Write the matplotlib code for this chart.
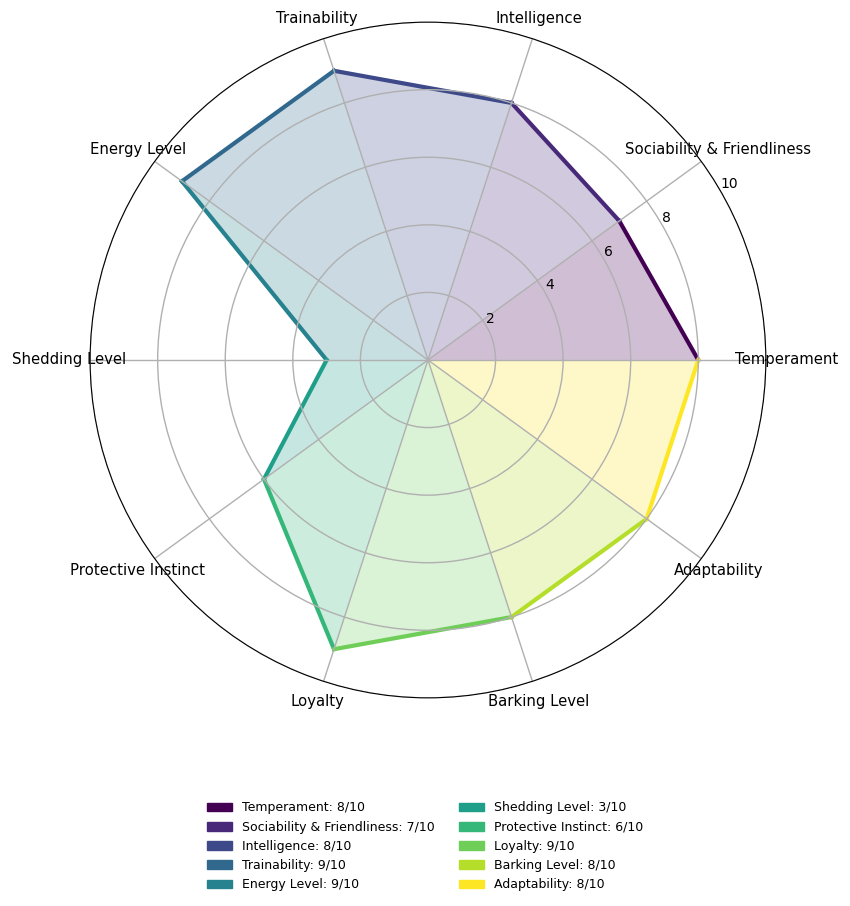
import numpy as np
import matplotlib.pyplot as plt
from matplotlib.patches import Patch

categories = ["Temperament", "Sociability & Friendliness", "Intelligence",
              "Trainability", "Energy Level", "Shedding Level",
              "Protective Instinct", "Loyalty", "Barking Level", "Adaptability"]
scores = [8, 7, 8, 9, 9, 3, 6, 9, 8, 8]

n = len(categories)
angles = np.linspace(0, 2 * np.pi, n, endpoint=False)
colors = plt.cm.viridis(np.linspace(0, 1, n))

fig = plt.figure(figsize=(8.5, 9.06), dpi=100)
ax = fig.add_axes([0.106, 0.2296, 0.795, 0.7461], polar=True)

# one wedge + one outline segment per category
for i in range(n):
    j = (i + 1) % n
    a0, a1 = angles[i], angles[j] if j != 0 else 2 * np.pi
    ax.fill([0, a0, a1, 0], [0, scores[i], scores[j], 0],
            color=colors[i], alpha=0.25, linewidth=0)
    ax.plot([a0, a1], [scores[i], scores[j]], color=colors[i], linewidth=3)

ax.set_xticks(angles)
ax.set_xticklabels(categories, fontsize=10.7)
ax.tick_params(axis="x", pad=4.5)
ax.set_ylim(0, 10)
ax.set_yticks([2, 4, 6, 8, 10])
ax.set_yticklabels(["2", "4", "6", "8", "10"], fontsize=10)
ax.set_rlabel_position(30)
ax.grid(True, color="#b0b0b0", linewidth=1)
ax.set_axisbelow(False)
ax.spines["polar"].set_zorder(10)
ax.spines["polar"].set_color("black")

handles = [Patch(color=colors[i], label=f"{categories[i]}: {scores[i]}/10")
           for i in range(n)]
fig.legend(handles=handles, loc="upper center", bbox_to_anchor=(0.5, 0.128),
           ncol=2, frameon=False, fontsize=9)

fig.savefig("out.png", dpi=100)
